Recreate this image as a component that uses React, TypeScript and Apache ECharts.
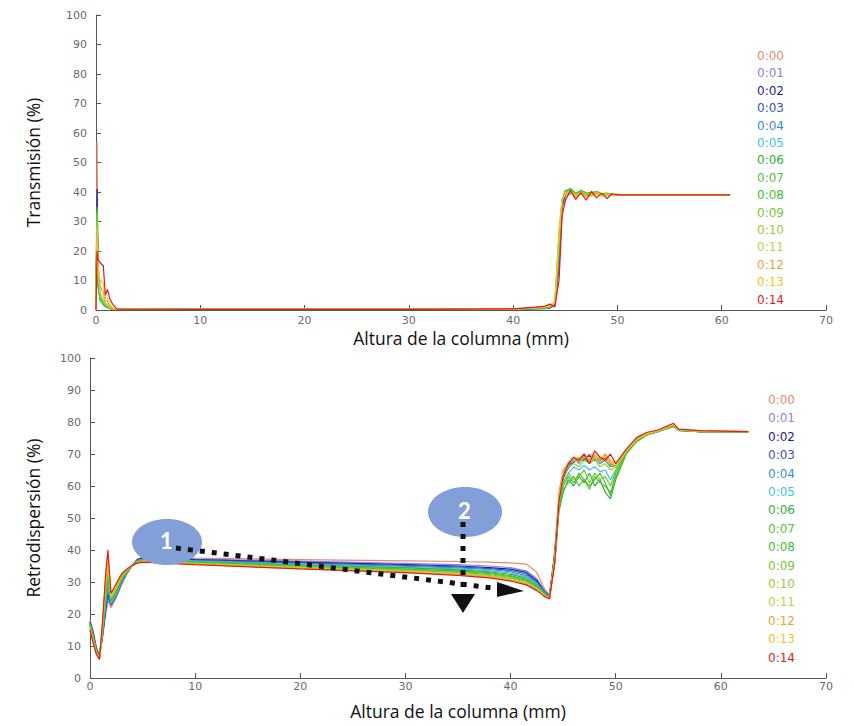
import React, { useEffect, useRef } from "react";
import * as echarts from "echarts";

// ---- Data ----
const SERIES_NAMES = ["0:00", "0:01", "0:02", "0:03", "0:04", "0:05", "0:06", "0:07", "0:08", "0:09", "0:10", "0:11", "0:12", "0:13", "0:14"];
const SERIES_COLORS = ["#e58a6e", "#8a86e0", "#1c1ca0", "#3a56c4", "#3a8ed4", "#40c4e4", "#2fb03c", "#58c23a", "#44c02e", "#76c640", "#98cc36", "#b8d640", "#e8a634", "#f2c428", "#e01c1c"];
const X_TICKS = [0, 10, 20, 30, 40, 50, 60, 70];
const Y_TICKS = [0, 10, 20, 30, 40, 50, 60, 70, 80, 90, 100];

// Transmission: shared heights (mm)
const X_T = [
  0, 0.1, 0.2, 0.4, 0.7, 0.9, 1.1, 1.3, 1.6, 2,
  10, 20, 30, 40, 43, 43.5, 44, 44.4,
  44.7, 45, 45.5, 46, 46.5, 47, 47.5, 48, 48.5, 49, 49.5, 50,
  51, 55, 60.8,
];
const T_00 = [0, 57, 12, 4, 2, 1.5, 1, 0.6, 0.3, 0.2, 0.2, 0.2, 0.2, 0.3, 0.4, 0.6, 1.5, 14, 34, 38.5, 39.6, 39, 39.8, 39.2, 38.8, 39.5, 39.1, 39.3, 38.9, 39.1, 39, 39, 39];
const T_01 = [0, 36, 9, 3.5, 2, 1.2, 0.9, 0.5, 0.3, 0.2, 0.2, 0.2, 0.2, 0.3, 0.5, 0.7, 1.6, 15, 35, 38.8, 39.4, 39.2, 39.6, 39, 39.3, 39.5, 38.9, 39.2, 39, 39.1, 39, 39, 39];
const T_02 = [0, 41, 10, 4, 2.2, 1.3, 1, 0.6, 0.3, 0.2, 0.2, 0.2, 0.2, 0.3, 0.5, 0.7, 1.7, 16, 35.5, 39, 40, 39.3, 39.7, 38.9, 39.4, 39.6, 39, 39.1, 39.2, 39, 39, 39, 39];
const T_03 = [0, 33, 9, 3.5, 2, 1.2, 0.9, 0.5, 0.3, 0.2, 0.2, 0.2, 0.2, 0.3, 0.6, 0.8, 1.8, 17, 36, 39.2, 39.8, 39.1, 39.9, 39.3, 39.5, 39.2, 39.4, 38.9, 39.1, 39, 39, 39, 39];
const T_04 = [0, 31, 8, 3.4, 2, 1.1, 0.9, 0.5, 0.3, 0.2, 0.2, 0.2, 0.2, 0.3, 0.6, 0.8, 1.9, 18, 36.5, 39.5, 40.2, 39, 39.6, 39.5, 39.2, 39.8, 39.1, 39.3, 38.8, 39.1, 39, 39, 39];
const T_05 = [0, 30, 8, 3.3, 1.9, 1.1, 0.8, 0.5, 0.3, 0.2, 0.2, 0.2, 0.2, 0.3, 0.6, 0.9, 2, 19, 36.8, 39.7, 40.4, 39.3, 39.9, 39.6, 39.4, 39.7, 39.3, 39, 39.2, 39, 39, 39, 39];
const T_06 = [0, 32, 9, 3.6, 2, 1.3, 1, 0.6, 0.3, 0.2, 0.2, 0.2, 0.2, 0.3, 0.7, 0.9, 2, 20, 37, 40.2, 41, 39.5, 40.5, 39.4, 39.7, 40, 39.2, 39.5, 39, 39.2, 39, 39, 39];
const T_07 = [0, 34, 10, 3.8, 2.1, 1.4, 1, 0.6, 0.3, 0.2, 0.2, 0.2, 0.2, 0.3, 0.7, 1, 2.1, 21, 37.2, 40.5, 40.8, 39.2, 40.6, 39.8, 39.5, 40.2, 39.4, 39.3, 39.1, 39.1, 39, 39, 39];
const T_08 = [0, 35, 11, 4, 2.3, 1.5, 1.1, 0.7, 0.4, 0.2, 0.2, 0.2, 0.2, 0.3, 0.8, 1, 2.2, 22, 37.4, 40.3, 41.2, 39.6, 40.2, 39.3, 40, 39.9, 39.5, 39.6, 39.2, 39, 39, 39, 39];
const T_09 = [0, 33, 12, 4.2, 2.4, 1.6, 1.2, 0.7, 0.4, 0.2, 0.2, 0.2, 0.2, 0.3, 0.8, 1.1, 2.3, 23, 37.5, 40, 40.6, 39.4, 40.1, 39.6, 39.6, 40.1, 39.2, 39.4, 39.1, 39.2, 39, 39, 39];
const T_10 = [0, 30, 12, 5, 3, 2, 1.4, 0.8, 0.4, 0.2, 0.2, 0.2, 0.2, 0.3, 0.9, 1.2, 2.4, 24, 37.6, 39.8, 40.5, 39.1, 40, 39.3, 39.2, 39.8, 39, 39.3, 39, 39, 39, 39, 39];
const T_11 = [0, 28, 13, 6, 4, 2.5, 2, 1, 0.5, 0.2, 0.2, 0.2, 0.2, 0.3, 1, 1.3, 2.4, 25, 37.7, 39.6, 40.3, 38.8, 39.8, 39, 39, 39.6, 39.2, 39.1, 39.2, 39, 39, 39, 39];
const T_12 = [0, 26, 14, 8, 6, 3, 3, 1.5, 0.6, 0.2, 0.2, 0.2, 0.2, 0.3, 1.1, 1.5, 2.5, 26, 37.8, 39.2, 40, 38.5, 39.5, 38.6, 38.8, 39.4, 38.8, 39.2, 38.9, 39.1, 39, 39, 39];
const T_13 = [0, 24, 15, 10, 9, 4, 4, 2, 0.8, 0.2, 0.2, 0.2, 0.2, 0.3, 1.1, 1.7, 2.6, 27, 37.9, 39, 39.8, 38.2, 39.3, 38.2, 38.6, 39.2, 38.6, 39, 38.8, 39, 39, 39, 39];
const T_14 = [0, 20, 17, 16, 15, 5, 7, 4, 2, 0.3, 0.2, 0.2, 0.2, 0.4, 1.2, 2, 1, 10, 32, 37, 40.5, 37.5, 39.8, 37.2, 40.2, 38, 39.6, 37.8, 39.4, 39, 39, 39, 39];
const TRANS = [T_00, T_01, T_02, T_03, T_04, T_05, T_06, T_07, T_08, T_09, T_10, T_11, T_12, T_13, T_14];

// Backscattering: shared heights (mm)
const X_R = [
  0, 0.3, 0.6, 0.9, 1.2, 1.5, 1.7, 2.0, 2.5, 3, 3.5, 4, 4.5, 5,
  10, 20, 30, 35, 38, 40, 41.5, 42.5, 43.2, 43.7,
  44.2, 44.6, 45, 45.5, 46, 46.5, 47, 47.5, 48, 48.5, 49, 49.5, 50,
  51, 52, 53, 54, 55.5, 56, 58, 62.6,
];
const R_00 = [18, 15, 10, 7, 13, 20, 24, 22, 25, 29, 32.5, 35, 37, 37.8,
  37.5, 37, 36.6, 36.4, 36.2, 36, 35.6, 33, 28, 26,
  40, 58, 65, 67, 68, 69, 68, 70, 69, 68, 70, 68, 67,
  71, 74.5, 76.5, 77.2, 78.5, 77.5, 77, 77];
const R_01 = [18, 14, 9.5, 7, 13, 21, 25, 22.5, 25.5, 29.5, 32.5, 35, 37, 37.6,
  37.2, 36.5, 35.8, 35.4, 35, 34.5, 33.5, 31, 27.5, 25.8,
  39, 56, 62, 66, 68.5, 67, 69.5, 68, 69, 67.5, 69, 66, 66.5,
  70.5, 74, 76, 77, 79, 77.4, 77, 76.8];
const R_02 = [17.5, 14, 9, 6.8, 13.5, 21.5, 26, 23, 26, 30, 33, 35.2, 37, 37.5,
  37, 36.2, 35.4, 35, 34.5, 34, 33, 30.5, 27, 25.6,
  38.5, 55, 63, 67, 67.5, 68, 68.5, 69.5, 68, 69, 68.5, 67, 66,
  71, 74.5, 76, 77.3, 79.2, 77.5, 77.1, 77];
const R_03 = [17.5, 13.5, 9, 6.8, 14, 22, 27, 23, 26, 30, 33, 35.2, 36.8, 37.3,
  36.8, 36, 35.2, 34.7, 34.2, 33.6, 32.5, 30, 27, 25.5,
  38, 54, 62.5, 66, 68, 67.5, 69, 67, 68.5, 68, 69, 66.5, 66,
  70.8, 74.2, 76.2, 77.1, 79, 77.6, 77, 77];
const R_04 = [17, 13.5, 8.8, 6.6, 14, 23, 28.5, 23, 26, 30, 33, 35, 36.7, 37.2,
  36.6, 35.7, 34.9, 34.4, 33.9, 33.2, 32, 29.6, 26.8, 25.4,
  38, 54, 63, 65.5, 67.5, 68, 68, 68.5, 69, 67, 68, 66, 66.5,
  70.6, 74, 76, 77, 78.8, 77.4, 77, 76.9];
const R_05 = [17, 13, 8.6, 6.6, 14.5, 24, 29.5, 23.5, 26.5, 30.5, 33, 35, 36.6, 37.1,
  36.5, 35.5, 34.6, 34.1, 33.5, 32.8, 31.6, 29.3, 26.6, 25.3,
  37.5, 53, 61, 64, 66, 65, 66.5, 65, 66, 64.5, 65, 62, 65,
  70.5, 74, 76, 77, 78.9, 77.5, 77, 77];
const R_06 = [17, 13, 8.5, 6.5, 15, 25, 31, 24, 27, 30.5, 33, 35, 36.5, 37,
  36.3, 35.3, 34.4, 33.8, 33.2, 32.4, 31.2, 29, 26.5, 25.2,
  36, 52, 58, 62, 60, 63, 61, 64, 60, 62, 58, 56, 62,
  70, 74, 76, 77, 78.7, 77.3, 77, 76.9];
const R_07 = [16.5, 12.5, 8.3, 6.4, 15, 26, 32, 24, 27, 31, 33.2, 35, 36.4, 36.9,
  36.2, 35.1, 34.1, 33.5, 32.9, 32, 30.8, 28.7, 26.3, 25.1,
  36, 53, 59, 61, 63, 60, 62, 59, 63, 61, 60, 58, 63,
  70.2, 74, 76, 77, 78.8, 77.4, 77, 77];
const R_08 = [16.5, 12.5, 8.2, 6.3, 15.5, 27, 33, 24.5, 27.5, 31, 33.2, 35, 36.3, 36.8,
  36, 34.9, 33.9, 33.3, 32.6, 31.7, 30.5, 28.4, 26.2, 25,
  36, 54, 60, 63, 61, 64, 62, 60, 62, 64, 61, 57, 64,
  70.4, 74.2, 76, 77, 78.9, 77.5, 77, 77];
const R_09 = [16, 12, 8, 6.2, 16, 28, 34.5, 25, 28, 31.5, 33.5, 35, 36.2, 36.7,
  35.9, 34.7, 33.7, 33, 32.3, 31.4, 30.2, 28.2, 26, 25,
  37, 54, 61, 64, 62, 63, 65, 61, 64, 62, 63, 60, 65,
  70.6, 74.3, 76.1, 77, 79, 77.5, 77.1, 77];
const R_10 = [16, 12, 8, 6.2, 16, 29, 35.5, 25, 28, 31.5, 33.5, 35, 36.1, 36.6,
  35.8, 34.6, 33.5, 32.8, 32, 31.1, 29.9, 28, 25.9, 24.9,
  37, 55, 63, 66, 67, 66, 68, 67, 68.5, 66, 67, 65, 66,
  70.8, 74.5, 76.2, 77.1, 79.1, 77.6, 77, 77];
const R_11 = [15.5, 11.5, 7.8, 6, 16.5, 30, 36.5, 25.5, 28.5, 32, 33.8, 35, 36, 36.5,
  35.7, 34.4, 33.3, 32.6, 31.8, 30.8, 29.6, 27.8, 25.8, 24.9,
  37.5, 55, 64, 67, 68, 67.5, 69, 68, 69, 67.5, 68.5, 66.5, 66,
  71, 74.6, 76.3, 77.2, 79.2, 77.6, 77.1, 77];
const R_12 = [15.5, 11.5, 7.6, 6, 17, 31, 37.5, 26, 29, 32, 34, 35.2, 36, 36.4,
  35.6, 34.3, 33.1, 32.4, 31.6, 30.6, 29.4, 27.6, 25.7, 24.8,
  37, 56, 64, 67.5, 68.5, 68, 69.5, 68.5, 69.5, 68, 69, 67, 66.5,
  71, 74.8, 76.4, 77.2, 79.3, 77.7, 77.2, 77];
const R_13 = [15, 11, 7.5, 5.8, 17.5, 32, 39, 26, 29, 32.5, 34, 35.2, 36, 36.3,
  35.5, 34.2, 33, 32.2, 31.4, 30.4, 29.2, 27.4, 25.6, 24.8,
  36.5, 55.5, 63.5, 67, 69, 68.5, 70, 68, 70, 68.5, 69.5, 67.5, 66.5,
  71.2, 75, 76.5, 77.3, 79.4, 77.7, 77.2, 77.1];
const R_14 = [15, 11, 7.5, 5.8, 18, 33, 40, 26.5, 29.5, 32.5, 34, 35.2, 35.9, 36.2,
  35.4, 34.1, 32.9, 32.1, 31.3, 30.3, 29.1, 27.3, 25.5, 24.7,
  36, 55, 63, 67, 69, 68, 70, 67, 71, 69, 68, 70, 67,
  71.5, 75.2, 76.8, 77.5, 79.6, 77.8, 77.3, 77];
const BACK = [R_00, R_01, R_02, R_03, R_04, R_05, R_06, R_07, R_08, R_09, R_10, R_11, R_12, R_13, R_14];

const Y_NAME_TOP = "Transmisión (%)";
const Y_NAME_BOTTOM = "Retrodispersión (%)";
const X_NAME = "Altura de la columna (mm)";

const NAME_FONT = { fontFamily: "Open Sans", fontSize: 17.5, color: "#111" };
const TICK_FONT = { fontFamily: "DejaVu Sans", fontSize: 11, color: "#6a6a6a" };

function xAxis(gridIndex: number, nameGap: number, margin: number) {
  return {
    type: "value",
    gridIndex,
    min: X_TICKS[0],
    max: X_TICKS[X_TICKS.length - 1],
    interval: 10,
    name: X_NAME,
    nameLocation: "middle",
    nameGap,
    nameTextStyle: NAME_FONT,
    axisLine: { show: true, lineStyle: { color: "#555", width: 1 } },
    axisTick: { show: true, inside: true, length: 5, lineStyle: { color: "#555" } },
    axisLabel: { ...TICK_FONT, margin },
    splitLine: { show: false },
  };
}

function yAxis(gridIndex: number, name: string, nameGap: number) {
  return {
    type: "value",
    gridIndex,
    min: Y_TICKS[0],
    max: Y_TICKS[Y_TICKS.length - 1],
    interval: 10,
    name,
    nameLocation: "middle",
    nameGap,
    nameTextStyle: NAME_FONT,
    axisLine: { show: true, lineStyle: { color: "#555", width: 1 } },
    axisTick: { show: true, inside: true, length: 5, lineStyle: { color: "#555" } },
    axisLabel: { ...TICK_FONT, margin: 9 },
    splitLine: { show: false },
  };
}

function legend(left: number, top: number, gap: number) {
  return {
    orient: "vertical",
    left,
    top,
    itemWidth: 0,
    itemHeight: 12,
    itemGap: gap,
    icon: "rect",
    itemStyle: { opacity: 0 },
    lineStyle: { opacity: 0 },
    selectedMode: false,
    textStyle: { fontFamily: "DejaVu Sans", fontSize: 12, lineHeight: 12 },
    data: SERIES_NAMES.map((n, i) => ({ name: n, textStyle: { color: SERIES_COLORS[i] } })),
  };
}

export default function App() {
  const ref = useRef<HTMLDivElement>(null);
  useEffect(() => {
    document.body.style.margin = "0";
    if (!ref.current) return;
    const chart = echarts.init(ref.current, null, { renderer: "svg" });

    const series: any[] = [];
    TRANS.forEach((ys, i) => {
      series.push({
        type: "line",
        name: SERIES_NAMES[i],
        xAxisIndex: 0,
        yAxisIndex: 0,
        symbol: "none",
        data: X_T.map((x, j) => [x, ys[j]]),
        lineStyle: { width: 1.2, color: SERIES_COLORS[i] },
        itemStyle: { color: SERIES_COLORS[i] },
      });
    });
    BACK.forEach((ys, i) => {
      series.push({
        type: "line",
        name: SERIES_NAMES[i],
        xAxisIndex: 1,
        yAxisIndex: 1,
        symbol: "none",
        data: X_R.map((x, j) => [x, ys[j]]),
        lineStyle: { width: 1.2, color: SERIES_COLORS[i] },
        itemStyle: { color: SERIES_COLORS[i] },
      });
    });

    const dot = { stroke: "#111", lineWidth: 5, lineDash: [5, 7], fill: null };
    const bubble = "#839fd8";

    chart.setOption({
      animation: false,
      backgroundColor: "#fff",
      grid: [
        { left: 96, right: 28, top: 15, bottom: 416 },
        { left: 90, right: 28, top: 358, bottom: 48 },
      ],
      xAxis: [xAxis(0, 19, 5), xAxis(1, 24, 3)],
      yAxis: [yAxis(0, Y_NAME_TOP, 54), yAxis(1, Y_NAME_BOTTOM, 48)],
      legend: [legend(747, 45, 5.4), legend(758, 389, 6.4)],
      series,
      graphic: [
        { type: "ellipse", z: 100, shape: { cx: 167, cy: 542, rx: 35, ry: 23 }, style: { fill: bubble } },
        { type: "text", z: 101, style: { text: "1", x: 160, y: 529, fill: "#fff", font: "bold 22px Lato" } },
        { type: "ellipse", z: 100, shape: { cx: 465, cy: 512, rx: 37, ry: 25 }, style: { fill: bubble } },
        { type: "text", z: 101, style: { text: "2", x: 458, y: 499, fill: "#fff", font: "bold 22px Lato" } },
        { type: "polyline", z: 102, shape: { points: [[176, 548], [272, 560], [357, 571], [453, 583], [500, 589]] }, style: dot },
        { type: "polygon", z: 102, shape: { points: [[497, 582], [524, 591], [497, 597]] }, style: { fill: "#111" } },
        { type: "polyline", z: 102, shape: { points: [[463, 522], [463, 594]] }, style: dot },
        { type: "polygon", z: 102, shape: { points: [[451, 594], [475, 594], [463, 613]] }, style: { fill: "#111" } },
      ],
    });
    return () => chart.dispose();
  }, []);
  return <div ref={ref} style={{ width: 854, height: 726 }} />;
}
